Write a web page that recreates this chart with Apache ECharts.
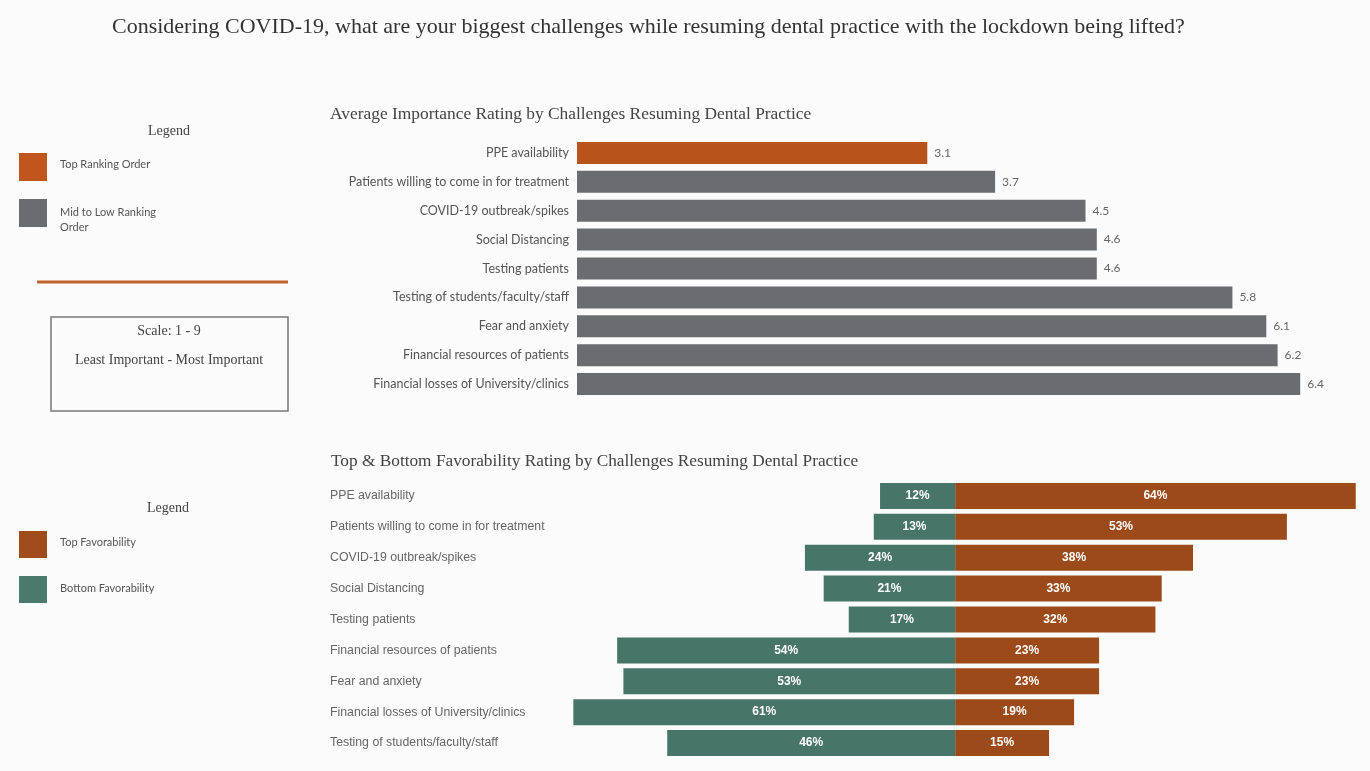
<!DOCTYPE html>
<html>
<head>
<meta charset="utf-8">
<script src="https://cdn.jsdelivr.net/npm/echarts@6/dist/echarts.min.js"></script>
<style>
  html, body { margin: 0; padding: 0; background: #fbfbfb; }
  #main { width: 1370px; height: 771px; }
</style>
</head>
<body>
<div id="main"></div>
<script>
/* data */
var impCategories = ['PPE availability', 'Patients willing to come in for treatment', 'COVID-19 outbreak/spikes',
  'Social Distancing', 'Testing patients', 'Testing of students/faculty/staff', 'Fear and anxiety',
  'Financial resources of patients', 'Financial losses of University/clinics'];
var impValues = [3.1, 3.7, 4.5, 4.6, 4.6, 5.8, 6.1, 6.2, 6.4];

var favCategories = ['PPE availability', 'Patients willing to come in for treatment', 'COVID-19 outbreak/spikes',
  'Social Distancing', 'Testing patients', 'Financial resources of patients', 'Fear and anxiety',
  'Financial losses of University/clinics', 'Testing of students/faculty/staff'];
var topFav = [64, 53, 38, 33, 32, 23, 23, 19, 15];
var bottomFav = [12, 13, 24, 21, 17, 54, 53, 61, 46];

/* colours */
var ORANGE = '#b9531c';
var GRAY = '#6b6c70';
var BROWN = '#9c4a1a';
var TEAL = '#477567';

var SERIF = '"Liberation Serif", "DejaVu Serif", serif';
var SANS = 'Lato, "Liberation Sans", sans-serif';

var chart = echarts.init(document.getElementById('main'));

var option = {
  backgroundColor: '#fbfbfb',
  animation: false,
  title: [
    {
      text: 'Considering COVID-19, what are your biggest challenges while resuming dental practice with the lockdown being lifted?',
      left: 107, top: 11,
      textStyle: { fontFamily: SERIF, fontSize: 22, fontWeight: 'normal', color: '#333' }
    },
    {
      text: 'Average Importance Rating by Challenges Resuming Dental Practice',
      left: 325, top: 101,
      textStyle: { fontFamily: SERIF, fontSize: 17.4, fontWeight: 'normal', color: '#444' }
    },
    {
      text: 'Top & Bottom Favorability Rating by Challenges Resuming Dental Practice',
      left: 326, top: 448,
      textStyle: { fontFamily: SERIF, fontSize: 17.3, fontWeight: 'normal', color: '#444' }
    }
  ],
  grid: [
    { left: 577, right: 2, top: 138.5, bottom: 372.5 },
    { left: 517, right: 8, top: 480.5, bottom: 12.5 }
  ],
  xAxis: [
    { gridIndex: 0, type: 'value', min: 0, max: 7, show: false },
    { gridIndex: 1, type: 'value', min: -70, max: 65, show: false }
  ],
  yAxis: [
    {
      gridIndex: 0, type: 'category', inverse: true, data: impCategories,
      axisLine: { show: false }, axisTick: { show: false },
      axisLabel: { margin: 8, fontFamily: SANS, fontSize: 12.5, color: '#555' }
    },
    {
      gridIndex: 1, type: 'category', inverse: true, data: favCategories,
      axisLine: { show: false, onZero: false }, axisTick: { show: false },
      axisLabel: { margin: 187, align: 'left', fontFamily: '"Liberation Sans", Arial, sans-serif', fontSize: 12.3, color: '#666' }
    }
  ],
  series: [
    {
      name: 'Average Importance',
      type: 'bar', xAxisIndex: 0, yAxisIndex: 0,
      data: impValues, barWidth: 22,
      itemStyle: {
        color: function (p) { return p.dataIndex === 0 ? ORANGE : GRAY; }
      },
      label: {
        show: true, position: 'right', distance: 7,
        fontFamily: SANS, fontSize: 12, color: '#666',
        formatter: function (p) { return p.value.toFixed(1); }
      }
    },
    {
      name: 'Top Favorability',
      type: 'bar', xAxisIndex: 1, yAxisIndex: 1, stack: 'fav',
      data: topFav, barWidth: 26,
      itemStyle: { color: BROWN },
      label: {
        show: true, position: 'inside',
        fontFamily: '"Liberation Sans Narrow", "Liberation Sans", sans-serif', fontSize: 12, fontWeight: 'bold', color: '#fff',
        formatter: '{c}%'
      }
    },
    {
      name: 'Bottom Favorability',
      type: 'bar', xAxisIndex: 1, yAxisIndex: 1, stack: 'fav',
      data: bottomFav.map(function (v) { return -v; }), barWidth: 26,
      itemStyle: { color: TEAL },
      label: {
        show: true, position: 'inside',
        fontFamily: '"Liberation Sans Narrow", "Liberation Sans", sans-serif', fontSize: 12, fontWeight: 'bold', color: '#fff',
        formatter: function (p) { return Math.abs(p.value) + '%'; }
      }
    }
  ],
  graphic: [
    /* top legend */
    { type: 'text', x: 169, y: 131, style: { text: 'Legend', font: '14px ' + SERIF, fill: '#444', align: 'center', verticalAlign: 'middle' } },
    { type: 'rect', shape: { x: 19, y: 153, width: 28, height: 28 }, style: { fill: '#c0561e' } },
    { type: 'text', left: 60, top: 159, style: { text: 'Top Ranking Order', font: '11px ' + SANS, fill: '#555' } },
    { type: 'rect', shape: { x: 19, y: 199, width: 28, height: 28 }, style: { fill: GRAY } },
    { type: 'text', left: 60, top: 205, style: { text: 'Mid to Low Ranking\nOrder', font: '11px ' + SANS, fill: '#555', lineHeight: 15 } },
    { type: 'line', shape: { x1: 37, y1: 282, x2: 288, y2: 282 }, style: { stroke: '#c0622e', lineWidth: 3 } },
    { type: 'rect', shape: { x: 51, y: 317, width: 237, height: 94 }, style: { fill: 'none', stroke: '#777', lineWidth: 1.5 } },
    { type: 'text', x: 169, y: 331, style: { text: 'Scale: 1 - 9', font: '14px ' + SERIF, fill: '#444', align: 'center', verticalAlign: 'middle' } },
    { type: 'text', x: 169, y: 360, style: { text: 'Least Important - Most Important', font: '14px ' + SERIF, fill: '#444', align: 'center', verticalAlign: 'middle' } },
    /* bottom legend */
    { type: 'text', x: 168, y: 508, style: { text: 'Legend', font: '14px ' + SERIF, fill: '#444', align: 'center', verticalAlign: 'middle' } },
    { type: 'rect', shape: { x: 19, y: 531, width: 28, height: 27 }, style: { fill: '#a04b1c' } },
    { type: 'text', left: 60, top: 537, style: { text: 'Top Favorability', font: '11px ' + SANS, fill: '#555' } },
    { type: 'rect', shape: { x: 19, y: 576, width: 28, height: 27 }, style: { fill: '#4a7a6c' } },
    { type: 'text', left: 60, top: 583, style: { text: 'Bottom Favorability', font: '11px ' + SANS, fill: '#555' } }
  ]
};

chart.setOption(option);
</script>
</body>
</html>
